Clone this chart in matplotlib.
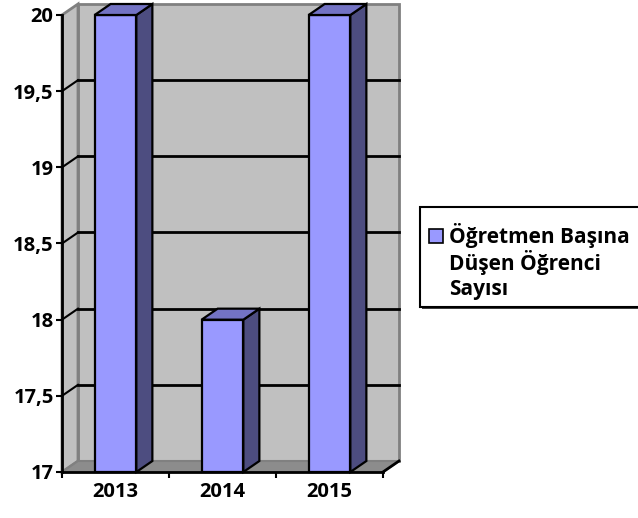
import matplotlib
matplotlib.use("Agg")
import matplotlib.pyplot as plt
from matplotlib.patches import Rectangle, Polygon

# data
years = ["2013", "2014", "2015"]
values = [20, 18, 20]
series_lines = ["Öğretmen Başına", "Düşen Öğrenci", "Sayısı"]
y_ticks = [17, 17.5, 18, 18.5, 19, 19.5, 20]

plt.rcParams["font.family"] = ["Open Sans", "DejaVu Sans"]
plt.rcParams["font.weight"] = "bold"

W, H = 638, 518
fig = plt.figure(figsize=(W / 100, H / 100), dpi=100)
# front plane of the 3D box, in pixels: x 62..383, y 15..472
ax = fig.add_axes([62 / W, 1 - 472 / H, 321 / W, 457 / H])
ax.set_xlim(-0.5, len(years) - 0.5)
ax.set_ylim(17, 20)
ax.patch.set_visible(False)

# depth offset of the 3D look, in data units (about 16 px right, 11 px up)
dx, dy = 16 / 107, 11 / (457 / 3)
x0, x1 = -0.5, len(years) - 0.5
y0, y1 = y_ticks[0], y_ticks[-1]

wall = "#c0c0c0"
wall_edge = "#808080"

# back wall
ax.add_patch(Rectangle((x0 + dx, y0 + dy), x1 - x0, y1 - y0, facecolor=wall,
                       edgecolor=wall_edge, lw=2, clip_on=False, zorder=1))
# left wall
ax.add_patch(Polygon([(x0, y0), (x0, y1), (x0 + dx, y1 + dy), (x0 + dx, y0 + dy)],
                     closed=True, facecolor=wall, edgecolor=wall_edge, lw=2,
                     clip_on=False, zorder=1))
# floor
ax.add_patch(Polygon([(x0, y0), (x1, y0), (x1 + dx, y0 + dy), (x0 + dx, y0 + dy)],
                     closed=True, facecolor="#8c8c8c", edgecolor=wall_edge, lw=1.5,
                     clip_on=False, zorder=1.5))
ax.plot([x1, x1 + dx], [y0, y0 + dy], color="black", lw=2, clip_on=False, zorder=2)

# gridlines on back wall + their diagonals on the left wall
for v in y_ticks[1:-1]:
    ax.plot([x0 + dx, x1 + dx], [v + dy, v + dy], color="black", lw=2,
            clip_on=False, zorder=2)
    ax.plot([x0, x0 + dx], [v, v + dy], color="black", lw=1.5,
            clip_on=False, zorder=2)

# 3D bars
bw = 0.39
front_c, side_c, top_c = "#9999ff", "#4d4d80", "#7373c4"
for i, v in enumerate(values):
    l, r = i - bw / 2, i + bw / 2
    ax.add_patch(Rectangle((l, y0), bw, v - y0, facecolor=front_c,
                           edgecolor="black", lw=1.6, clip_on=False, zorder=5))
    ax.add_patch(Polygon([(r, y0), (r + dx, y0 + dy), (r + dx, v + dy), (r, v)],
                         closed=True, facecolor=side_c, edgecolor="black", lw=1.6,
                         clip_on=False, zorder=5))
    ax.add_patch(Polygon([(l, v), (l + dx, v + dy), (r + dx, v + dy), (r, v)],
                         closed=True, facecolor=top_c, edgecolor="black", lw=1.6,
                         clip_on=False, zorder=5))

# axes
for s in ["top", "right"]:
    ax.spines[s].set_visible(False)
for s in ["left", "bottom"]:
    ax.spines[s].set_linewidth(2)
    ax.spines[s].set_zorder(6)

ax.set_yticks(y_ticks)
ax.set_yticklabels([f"{t:g}".replace(".", ",") for t in y_ticks],
                   fontsize=14.5, fontweight="bold")
ax.tick_params(axis="y", direction="out", length=4, width=1.5, pad=2)
ax.set_xticks(range(len(years)))
ax.set_xticklabels(years, fontsize=14.5, fontweight="bold")
ax.set_xticks([x0 + k for k in range(len(years) + 1)], minor=True)
ax.tick_params(axis="x", which="major", length=0, pad=7)
ax.tick_params(axis="x", which="minor", direction="out", length=4, width=1.5)

# legend box (drawn in figure pixels)
def px(x, y):
    return x / W, 1 - y / H

lx, ly, lw_, lh = 420, 207, 260, 100
fig.patches.append(Rectangle(px(lx + 2, ly + lh + 2), lw_ / W, lh / H,
                             transform=fig.transFigure, facecolor="#404040",
                             edgecolor="none", zorder=1))
fig.patches.append(Rectangle(px(lx, ly + lh), lw_ / W, lh / H,
                             transform=fig.transFigure, facecolor="white",
                             edgecolor="black", lw=1.5, zorder=2))
fig.patches.append(Rectangle(px(429, 243), 14 / W, 14 / H,
                             transform=fig.transFigure, facecolor=front_c,
                             edgecolor="black", lw=1.2, zorder=3))
for k, line in enumerate(series_lines):
    fig.text(*px(449, 235 + 27.5 * k), line, fontsize=15, fontweight="bold",
             va="center", ha="left", zorder=4)

fig.savefig("out.png", dpi=100)
